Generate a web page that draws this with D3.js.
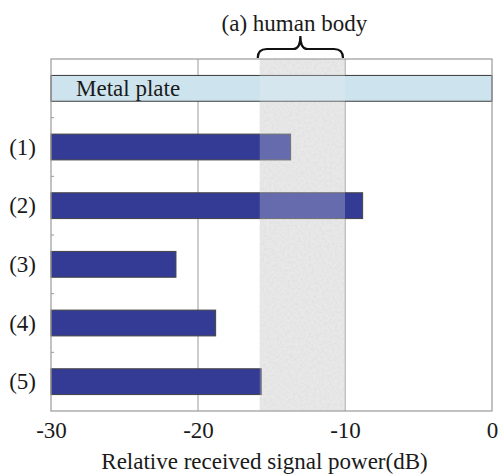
<!DOCTYPE html>
<html>
<head>
<meta charset="utf-8">
<script src="https://cdn.jsdelivr.net/npm/d3@7"></script>
<style>
  html, body { margin: 0; padding: 0; background: #fff; }
  svg { display: block; }
  text { font-family: "Liberation Serif", "DejaVu Serif", serif; fill: #1a1a1a; }
</style>
</head>
<body>
<script>
// Received power for each configuration (dB, relative)
const categories = ["Metal plate", "(1)", "(2)", "(3)", "(4)", "(5)"];
const values = [0, -13.7, -8.8, -21.5, -18.8, -15.7];
const xTicks = [-30, -20, -10, 0];
const xDomain = [-30, 0];
// Range of received power with a human body in place of the plate
const bodyRange = [-15.8, -10];
const bodyLabel = "(a) human body";
const xTitle = "Relative received signal power(dB)";

const W = 499, H = 476;
const margin = { top: 59, right: 7, bottom: 65, left: 51 };
const iw = W - margin.left - margin.right;
const ih = H - margin.top - margin.bottom;
const fontSize = 23;

const svg = d3.select("body").append("svg").attr("width", W).attr("height", H);

// grain texture for the shaded band
const defs = svg.append("defs");
const f = defs.append("filter").attr("id", "grain")
  .attr("x", 0).attr("y", 0).attr("width", 1).attr("height", 1);
f.append("feTurbulence").attr("type", "fractalNoise")
  .attr("baseFrequency", 0.38).attr("numOctaves", 2).attr("seed", 5).attr("result", "n");
f.append("feColorMatrix").attr("in", "n").attr("type", "matrix")
  .attr("values", "0 0 0 0 0.68  0 0 0 0 0.68  0 0 0 0 0.68  0 0 0 2.2 -0.85")
  .attr("result", "g");
f.append("feComposite").attr("in", "g").attr("in2", "SourceGraphic").attr("operator", "in");

const g = svg.append("g").attr("transform", `translate(${margin.left},${margin.top})`);

const x = d3.scaleLinear().domain(xDomain).range([0, iw]);
const y = d3.scaleBand().domain(categories).range([0, ih]).paddingInner(0.56).paddingOuter(0.28);
const step = y.step();
const bx0 = x(bodyRange[0]), bx1 = x(bodyRange[1]);

// vertical grid lines
g.append("g").selectAll("line").data(xTicks.slice(1, -1)).join("line")
  .attr("x1", d => x(d)).attr("x2", d => x(d))
  .attr("y1", 0).attr("y2", ih)
  .attr("stroke", "#9a9a9a").attr("stroke-width", 1);

// shaded band (human body range), grainy gray underneath the bars
g.append("rect")
  .attr("x", bx0).attr("y", 0.5).attr("width", bx1 - bx0).attr("height", ih - 1)
  .attr("fill", "#e6e6e6");
g.append("rect")
  .attr("x", bx0).attr("y", 0.5).attr("width", bx1 - bx0).attr("height", ih - 1)
  .attr("fill", "#fff").attr("filter", "url(#grain)").attr("opacity", 0.6);
g.append("line")
  .attr("x1", bx1).attr("x2", bx1).attr("y1", 0).attr("y2", ih)
  .attr("stroke", "#b8b8b8").attr("stroke-width", 1);

// bars
const data = categories.map((c, i) => ({ c, v: values[i] }));
g.append("g").selectAll("rect").data(data).join("rect")
  .attr("x", x(xDomain[0]))
  .attr("y", d => y(d.c))
  .attr("width", d => x(d.v) - x(xDomain[0]))
  .attr("height", y.bandwidth())
  .attr("fill", (d, i) => i === 0 ? "#cde4ee" : "#343b94")
  .attr("stroke", (d, i) => i === 0 ? "#3a3a3a" : "#444")
  .attr("stroke-width", 1);

// translucent veil of the band over the bars
g.append("rect")
  .attr("x", bx0).attr("y", 0.5).attr("width", bx1 - bx0).attr("height", ih - 1)
  .attr("fill", "#ececf0").attr("fill-opacity", 0.27);

// metal plate label inside its bar
g.append("text")
  .attr("x", 25).attr("y", y(categories[0]) + y.bandwidth() / 2)
  .attr("dy", "0.33em").attr("font-size", fontSize)
  .text(categories[0]);

// frame
g.append("rect").attr("x", 0).attr("y", 0).attr("width", iw).attr("height", ih)
  .attr("fill", "none").attr("stroke", "#9a9a9a").attr("stroke-width", 1.2);

// small inward ticks at category boundaries
g.append("g").selectAll("line").data(categories.slice(1)).join("line")
  .attr("x1", 0).attr("x2", 3)
  .attr("y1", d => y(d) - (step - y.bandwidth()) / 2)
  .attr("y2", d => y(d) - (step - y.bandwidth()) / 2)
  .attr("stroke", "#9a9a9a");

// category labels
g.append("g").selectAll("text").data(categories.slice(1)).join("text")
  .attr("x", -15).attr("y", d => y(d) + y.bandwidth() / 2)
  .attr("dy", "0.33em").attr("text-anchor", "end").attr("font-size", fontSize)
  .text(d => d);

// x axis labels
const xAxis = d3.axisBottom(x).tickValues(xTicks).tickSize(0).tickPadding(11)
  .tickFormat(d => d === 0 ? "0" : String(d));
const ax = g.append("g").attr("transform", `translate(0,${ih})`).call(xAxis);
ax.select(".domain").remove();
ax.selectAll("text").attr("font-size", fontSize).attr("fill", "#1a1a1a");

// axis title
svg.append("text")
  .attr("x", margin.left + iw / 2 - 7).attr("y", H - 7)
  .attr("text-anchor", "middle").attr("font-size", fontSize)
  .text(xTitle);

// brace above the band
const yb = margin.top - 1;
const L = margin.left + bx0 - 2, R = margin.left + bx1 - 2, M = (L + R) / 2;
const yh = yb - 9, yt = yb - 22;
svg.append("path")
  .attr("d", `M${L},${yb} Q${L},${yh} ${L + 9},${yh} L${M - 7},${yh} Q${M},${yh} ${M},${yt} Q${M},${yh} ${M + 7},${yh} L${R - 9},${yh} Q${R},${yh} ${R},${yb}`)
  .attr("fill", "none").attr("stroke", "#111").attr("stroke-width", 2.2);

svg.append("text")
  .attr("x", M - 6).attr("y", 31)
  .attr("text-anchor", "middle").attr("font-size", fontSize)
  .text(bodyLabel);
</script>
</body>
</html>
